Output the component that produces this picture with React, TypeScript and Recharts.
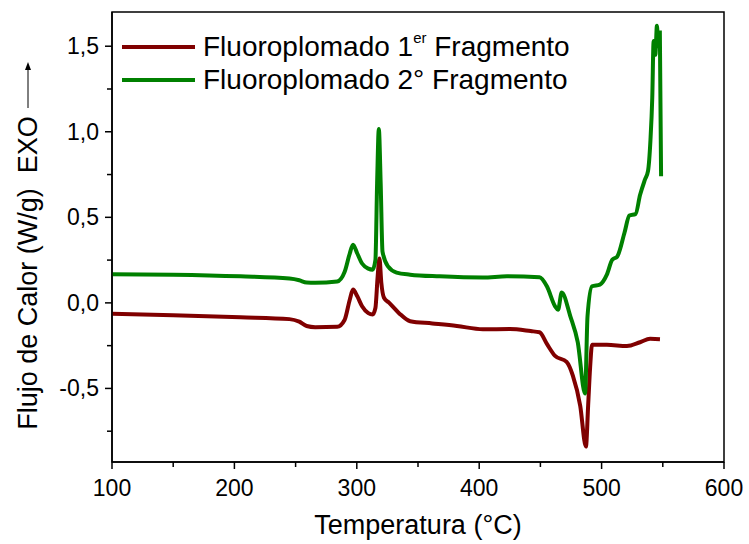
import React from 'react';
import { LineChart, Line, XAxis, YAxis, ReferenceArea } from 'recharts';

// DSC curves
const tempFrag1 = [100, 150, 205, 245, 253, 259, 266, 284, 290, 294.3, 296.9, 300.3, 304.3, 309.4, 312.9, 315.2, 317, 318.5, 320, 322.2, 326.5, 334.5, 343.6, 361.7, 381.8, 403, 425, 442, 449.3, 455.3, 462, 471.4, 476.5, 482.5, 487.2, 489, 490.6, 492.2, 504.3, 520.7, 531.4, 539.6, 547.7];
const heatFrag1 = [-0.064, -0.072, -0.084, -0.095, -0.11, -0.135, -0.142, -0.14, -0.1, 0.02, 0.078, 0.04, -0.02, -0.06, -0.068, -0.03, 0.15, 0.26, 0.12, 0.03, 0.0, -0.06, -0.107, -0.12, -0.135, -0.154, -0.153, -0.165, -0.172, -0.24, -0.31, -0.345, -0.425, -0.6, -0.84, -0.6, -0.38, -0.245, -0.245, -0.252, -0.23, -0.21, -0.212];

const tempFrag2 = [100, 150, 205, 245, 253, 259, 266, 284, 290, 294.3, 296.9, 300.3, 304.3, 309.4, 312.9, 315.2, 316.6, 318, 319.5, 321, 325.5, 332.5, 343.6, 367.7, 403, 422.7, 449.3, 455.3, 462, 464.4, 467.4, 474.4, 480.5, 486.5, 488.5, 492.2, 498.6, 504.3, 508.7, 512.7, 518.7, 522.7, 527.8, 531.4, 535.4, 537.9, 539.9, 541.4, 542.5, 543.9, 545.2, 546.3, 547.6, 548.6];
const heatFrag2 = [0.168, 0.165, 0.155, 0.142, 0.132, 0.119, 0.118, 0.125, 0.18, 0.29, 0.34, 0.29, 0.23, 0.2, 0.194, 0.25, 0.7, 1.016, 0.7, 0.3, 0.213, 0.177, 0.165, 0.155, 0.148, 0.155, 0.15, 0.097, -0.02, -0.04, 0.06, -0.077, -0.23, -0.53, -0.077, 0.097, 0.107, 0.165, 0.252, 0.27, 0.41, 0.51, 0.52, 0.63, 0.72, 0.77, 0.95, 1.2, 1.53, 1.45, 1.62, 1.5, 1.58, 0.74];

const xTicks = [100, 150, 200, 250, 300, 350, 400, 450, 500, 550, 600];
const yTicks = [-0.75, -0.5, -0.25, 0, 0.25, 0.5, 0.75, 1, 1.25, 1.5];

const frag1 = tempFrag1.map((t, i) => ({ t, v: heatFrag1[i] }));
const frag2 = tempFrag2.map((t, i) => ({ t, v: heatFrag2[i] }));

const RED = '#800000';
const GREEN = '#008000';
const FONT = '"Liberation Sans", Arial, sans-serif';
const X_DOMAIN = [100, 600];
const Y_DOMAIN = [-0.93, 1.7];

const XTick = ({ x, y, payload }: any) => {
  const major = payload.value % 100 === 0;
  return (
    <g>
      <line x1={x} y1={y} x2={x} y2={y + (major ? 7 : 5)} stroke="#000" strokeWidth={1.5} />
      {major && (
        <text x={x} y={y + 34} textAnchor="middle" fontSize={23} fontFamily={FONT} fill="#000">
          {payload.value}
        </text>
      )}
    </g>
  );
};

const YTick = ({ x, y, payload }: any) => {
  const major = Math.abs((payload.value * 2) % 1) < 1e-6;
  return (
    <g>
      <line x1={x} y1={y} x2={x - (major ? 7 : 5)} y2={y} stroke="#000" strokeWidth={1.5} />
      {major && (
        <text x={x - 13} y={y + 8} textAnchor="end" fontSize={23} fontFamily={FONT} fill="#000">
          {payload.value.toFixed(1).replace('.', ',')}
        </text>
      )}
    </g>
  );
};

const LegendBox = () => (
  <div style={{ position: 'absolute', left: 122, top: 30, fontFamily: FONT, fontSize: 28, color: '#000', lineHeight: '33px', whiteSpace: 'nowrap' }}>
    <div style={{ display: 'flex', alignItems: 'center' }}>
      <span style={{ display: 'inline-block', width: 73, height: 4, background: RED, marginRight: 8 }} />
      <span>Fluoroplomado 1<sup style={{ fontSize: 15, verticalAlign: 'top', lineHeight: '15px' }}>er</sup> Fragmento</span>
    </div>
    <div style={{ display: 'flex', alignItems: 'center' }}>
      <span style={{ display: 'inline-block', width: 73, height: 4, background: GREEN, marginRight: 8 }} />
      <span>Fluoroplomado 2° Fragmento</span>
    </div>
  </div>
);

export default function App() {
  return (
    <div style={{ position: 'absolute', left: 0, top: 0, width: 749, height: 544, background: '#fff' }}>
      <LineChart width={749} height={544} margin={{ top: 12, right: 25, left: 0, bottom: 0 }}>
        <XAxis
          xAxisId="x"
          type="number"
          dataKey="t"
          domain={X_DOMAIN}
          ticks={xTicks}
          interval={0}
          height={82}
          tickSize={0}
          tickMargin={0}
          tickLine={false}
          tick={<XTick />}
          axisLine={{ stroke: '#000', strokeWidth: 1.5 }}
          allowDataOverflow
        />
        <YAxis
          yAxisId="y"
          type="number"
          domain={Y_DOMAIN}
          ticks={yTicks}
          interval={0}
          width={112}
          tickSize={0}
          tickMargin={0}
          tickLine={false}
          tick={<YTick />}
          axisLine={{ stroke: '#000', strokeWidth: 1.5 }}
          allowDataOverflow
        />
        <ReferenceArea xAxisId="x" yAxisId="y" x1={X_DOMAIN[0]} x2={X_DOMAIN[1]} y1={Y_DOMAIN[0]} y2={Y_DOMAIN[1]} fill="none" stroke="#000" strokeWidth={1.5} fillOpacity={0} ifOverflow="visible" />
        <Line xAxisId="x" yAxisId="y" data={frag1} dataKey="v" type="monotone" stroke={RED} strokeWidth={4} dot={false} isAnimationActive={false} name="Fluoroplomado 1er Fragmento" />
        <Line xAxisId="x" yAxisId="y" data={frag2} dataKey="v" type="monotone" stroke={GREEN} strokeWidth={4} dot={false} isAnimationActive={false} name="Fluoroplomado 2° Fragmento" />
      </LineChart>
      <LegendBox />
      <div style={{ position: 'absolute', left: 0, top: 510, width: 836, textAlign: 'center', fontFamily: FONT, fontSize: 27, lineHeight: '30px' }}>
        Temperatura (°C)
      </div>
      <div
        style={{
          position: 'absolute',
          left: 28 - 220,
          top: 245 - 16,
          width: 440,
          height: 32,
          transform: 'rotate(-90deg)',
          display: 'flex',
          alignItems: 'center',
          justifyContent: 'center',
          fontFamily: FONT,
          fontSize: 27,
          whiteSpace: 'nowrap',
        }}
      >
        <span>Flujo de Calor (W/g)&nbsp;&nbsp;EXO</span>
        <svg width={50} height={12} style={{ marginLeft: 6 }}>
          <line x1={2} y1={6} x2={44} y2={6} stroke="#000" strokeWidth={1} />
          <polygon points="48,6 40,3 40,9" fill="#000" />
        </svg>
      </div>
    </div>
  );
}
